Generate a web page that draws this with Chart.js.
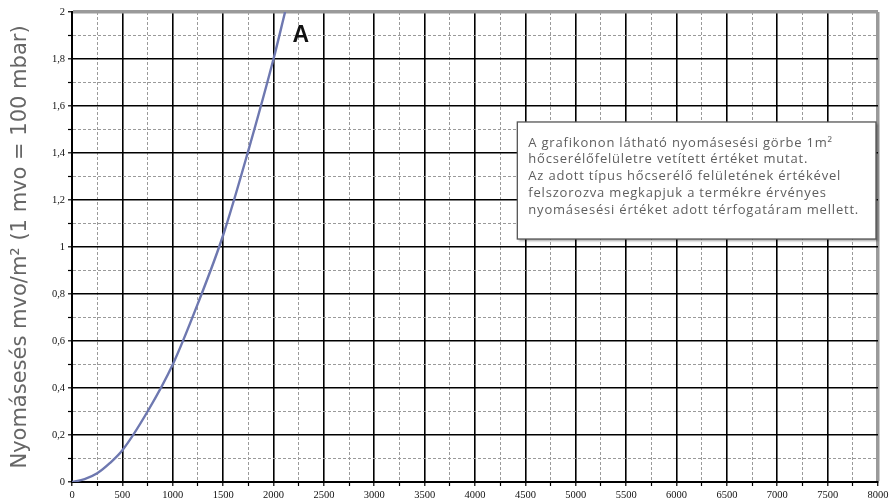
<!DOCTYPE html>
<html><head><meta charset="utf-8">
<script src="https://cdn.jsdelivr.net/npm/chart.js@4.4.0/dist/chart.umd.min.js"></script>
<style>html,body{margin:0;padding:0;background:#fff}#wrap{width:894px;height:504px}</style>
</head><body><div id="wrap"><canvas id="c" width="894" height="504"></canvas></div>
<script>
const flowValues = [0, 125, 250, 375, 500, 750, 1000, 1250, 1500, 1750, 2000, 2115];
const pressureA = [0, 0.012, 0.037, 0.08, 0.135, 0.3, 0.5, 0.76, 1.05, 1.41, 1.8, 2.0];
const seriesName = 'A';
const xTickLabels = ['0','500','1000','1500','2000','2500','3000','3500','4000','4500','5000','5500','6000','6500','7000','7500','8000'];
const yTickLabels = ['0','0,2','0,4','0,6','0,8','1','1,2','1,4','1,6','1,8','2'];
const yTitle = 'Nyomásesés mvo/m² (1 mvo = 100 mbar)';
const noteLines = [
  'A grafikonon látható nyomásesési görbe 1m²',
  'hőcserélőfelületre vetített értéket mutat.',
  'Az adott típus hőcserélő felületének értékével',
  'felszorozva megkapjuk a termékre érvényes',
  'nyomásesési értéket adott térfogatáram mellett.'
];

const isMajorX = v => Math.round(v) % 500 === 0;
const isMajorY = v => Math.round(v * 10) % 2 === 0;

const notePlugin = {
  id: 'notes',
  afterDatasetsDraw(chart) {
    const {ctx, scales: {x, y}} = chart;
    ctx.save();
    ctx.font = 'bold 23px "Liberation Sans", Arial, sans-serif';
    ctx.fillStyle = '#111';
    ctx.textAlign = 'center';
    ctx.textBaseline = 'middle';
    ctx.fillText(seriesName, x.getPixelForValue(2270), y.getPixelForValue(1.9));
    const l = x.getPixelForValue(4420), r = x.getPixelForValue(7980);
    const t = y.getPixelForValue(1.532), b = y.getPixelForValue(1.034);
    ctx.shadowColor = 'rgba(0,0,0,0.35)';
    ctx.shadowOffsetX = 2; ctx.shadowOffsetY = 2; ctx.shadowBlur = 2;
    ctx.fillStyle = '#fff';
    ctx.fillRect(l, t, r - l, b - t);
    ctx.shadowColor = 'transparent';
    ctx.strokeStyle = '#555';
    ctx.lineWidth = 1.3;
    ctx.strokeRect(l, t, r - l, b - t);
    ctx.fillStyle = '#5e5e5e';
    ctx.textAlign = 'left';
    ctx.font = '13px "Open Sans", sans-serif';
    ctx.letterSpacing = '0.8px';
    const lh = 16.8;
    noteLines.forEach((s, i) => ctx.fillText(s, l + 11, t + 21 + i * lh));
    ctx.letterSpacing = '0px';
    ctx.restore();
  }
};

new Chart(document.getElementById('c'), {
  type: 'line',
  data: {
    datasets: [{
      label: seriesName,
      data: flowValues.map((v, i) => ({x: v, y: pressureA[i]})),
      borderColor: '#6e78b0',
      borderWidth: 2.4,
      pointRadius: 0,
      cubicInterpolationMode: 'monotone',
      fill: false
    }]
  },
  options: {
    responsive: false,
    animation: false,
    devicePixelRatio: 1,
    layout: {padding: {top: 12, right: 16, left: 0, bottom: 0}},
    plugins: {legend: {display: false}, tooltip: {enabled: false}},
    scales: {
      x: {
        type: 'linear', min: 0, max: 8000,
        afterFit: s => { s.height = 22; },
        ticks: {
          stepSize: 250, autoSkip: false, maxRotation: 0, padding: 3,
          color: '#111',
          font: {family: '"Liberation Serif", "Times New Roman", serif', size: 10.5},
          callback: v => isMajorX(v) ? xTickLabels[Math.round(v / 500)] : ''
        },
        grid: {
          color: c => c.tick && c.tick.value === 8000 ? '#9a9a9a' : (c.tick && isMajorX(c.tick.value) ? '#000' : '#9a9a9a'),
          lineWidth: c => c.tick && c.tick.value === 8000 ? 3.5 : (c.tick && isMajorX(c.tick.value) ? 1.6 : 1),
          tickLength: 4, tickColor: '#000', tickWidth: 1.2
        },
        border: {
          color: '#000', width: 2,
          dash: c => c.tick && !isMajorX(c.tick.value) ? [3, 2] : []
        }
      },
      y: {
        type: 'linear', min: 0, max: 2,
        afterFit: s => { s.width = 72; },
        title: {
          display: true, text: yTitle, color: '#666',
          font: {family: '"DejaVu Sans", sans-serif', size: 21, weight: 'normal'},
          padding: {top: 8, bottom: 0}
        },
        ticks: {
          stepSize: 0.1, autoSkip: false, padding: 3,
          color: '#111',
          font: {family: '"Liberation Serif", "Times New Roman", serif', size: 10.5},
          callback: v => isMajorY(v) ? yTickLabels[Math.round(v * 5)] : ''
        },
        grid: {
          color: c => c.tick && Math.abs(c.tick.value - 2) < 1e-6 ? '#9a9a9a' : (c.tick && isMajorY(c.tick.value) ? '#000' : '#9a9a9a'),
          lineWidth: c => c.tick && Math.abs(c.tick.value - 2) < 1e-6 ? 3.5 : (c.tick && isMajorY(c.tick.value) ? 1.6 : 1),
          tickLength: 4, tickColor: '#000', tickWidth: 1.2
        },
        border: {
          color: '#000', width: 2,
          dash: c => c.tick && !isMajorY(c.tick.value) ? [3, 2] : []
        }
      }
    }
  },
  plugins: [notePlugin]
});
</script></body></html>
